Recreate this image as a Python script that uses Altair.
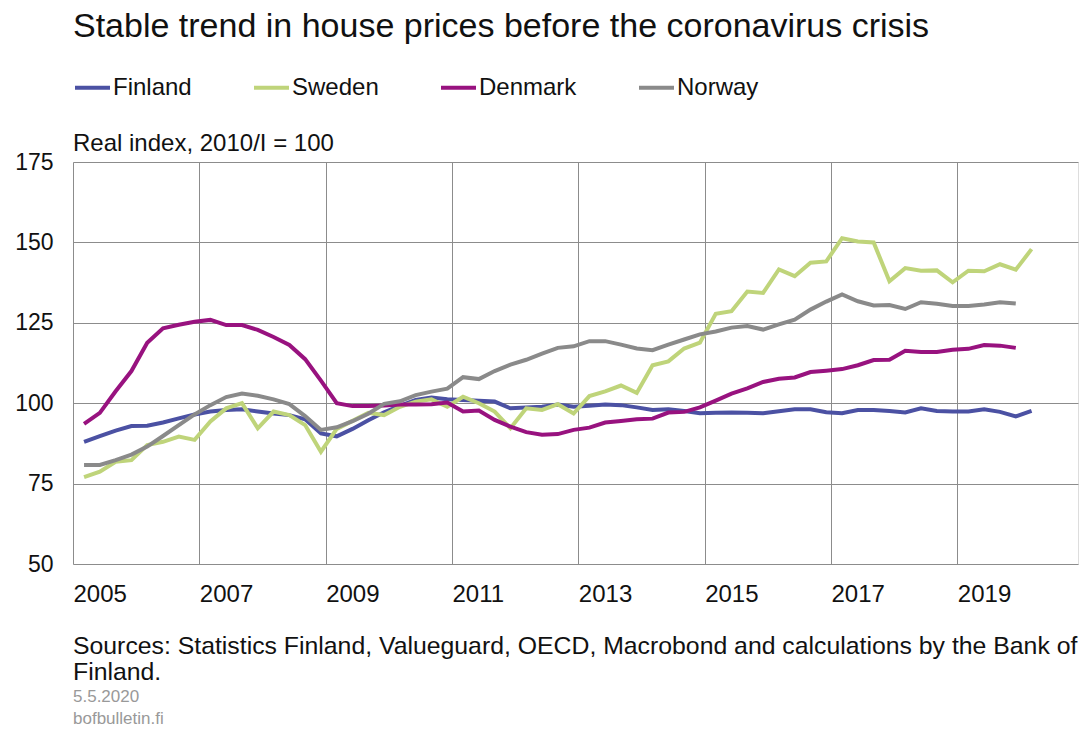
import altair as alt
import pandas as pd

# Quarterly real house price index, 2010/I = 100, starting 2005 Q1
start_year = 2005
finland = [88.0, 89.8, 91.5, 92.9, 93.0, 94.0, 95.3, 96.5, 97.4, 97.9, 98.1, 97.4, 96.8, 96.3, 95.0, 90.6,
           89.7, 92.0, 94.7, 97.2, 99.2, 101.0, 101.8, 101.2, 101.0, 100.8, 100.5, 98.4, 98.7, 98.9, 99.6, 98.9,
           99.2, 99.6, 99.4, 98.7, 97.9, 98.1, 97.6, 96.9, 97.0, 97.1, 97.0, 96.9, 97.5, 98.1, 98.1, 97.2,
           96.9, 97.9, 97.9, 97.6, 97.1, 98.4, 97.6, 97.4, 97.4, 98.1, 97.3, 95.9, 97.6]
sweden = [77.0, 78.7, 81.8, 82.3, 87.0, 88.0, 89.6, 88.6, 94.3, 98.4, 100.0, 92.2, 97.4, 96.3, 93.2, 84.9,
          92.0, 94.5, 97.0, 96.3, 98.9, 100.5, 101.2, 98.9, 102.0, 100.0, 97.4, 92.2, 98.4, 97.9, 99.7, 96.8,
          102.2, 103.7, 105.5, 103.2, 111.8, 113.0, 117.0, 118.8, 127.8, 128.6, 134.7, 134.3, 141.6, 139.5, 143.7, 144.1,
          151.3, 150.3, 150.0, 137.9, 142.0, 141.2, 141.3, 137.6, 141.2, 141.0, 143.2, 141.5, 147.9]
denmark = [93.6, 97.0, 103.7, 110.0, 118.8, 123.3, 124.4, 125.3, 125.9, 124.3, 124.3, 122.8, 120.6, 118.1, 113.7, 107.0,
           100.0, 99.1, 99.1, 99.3, 99.6, 99.6, 99.7, 100.2, 97.4, 97.7, 94.8, 92.7, 91.0, 90.2, 90.4, 91.7,
           92.4, 94.0, 94.5, 95.0, 95.2, 97.1, 97.3, 98.7, 100.8, 103.0, 104.6, 106.6, 107.6, 108.0, 109.7, 110.1,
           110.6, 111.8, 113.4, 113.5, 116.3, 115.9, 115.9, 116.6, 116.9, 118.1, 117.9, 117.2]
norway = [80.8, 80.8, 82.3, 84.0, 86.5, 89.8, 93.2, 96.5, 99.4, 101.9, 103.0, 102.3, 101.2, 99.7, 96.0, 91.7,
          92.5, 94.4, 96.7, 99.8, 100.6, 102.5, 103.6, 104.5, 108.1, 107.5, 110.0, 112.0, 113.5, 115.4, 117.2, 117.7,
          119.3, 119.3, 118.2, 117.0, 116.5, 118.2, 119.8, 121.4, 122.3, 123.5, 124.0, 122.9, 124.5, 126.0, 129.1, 131.6,
          133.8, 131.7, 130.4, 130.5, 129.3, 131.4, 130.9, 130.2, 130.2, 130.7, 131.4, 131.0]

countries = ["Finland", "Sweden", "Denmark", "Norway"]
colors = ["#4b51a3", "#bfd47a", "#98127f", "#8a8a8a"]
series = [finland, sweden, denmark, norway]
year_ticks = [2005, 2007, 2009, 2011, 2013, 2015, 2017, 2019]
y_ticks = [50, 75, 100, 125, 150, 175]

rows = []
for name, vals in zip(countries, series):
    for i, v in enumerate(vals):
        rows.append({"country": name, "t": start_year + (i + 0.7) / 4.0, "value": v})
df = pd.DataFrame(rows)

FONT = "Liberation Sans"
W, H = 1005, 402
GRID = "#8c8c8c"

lines = alt.Chart(df).mark_line(strokeWidth=4, clip=False).encode(
    x=alt.X("t:Q", scale=alt.Scale(domain=[2005, 2020.91], nice=False, zero=False),
            axis=alt.Axis(values=year_ticks, format="d", title=None, grid=True, gridColor=GRID,
                          gridWidth=1, ticks=False, domain=False, labelAlign="left",
                          labelFontSize=24, labelFont=FONT, labelColor="#111", labelPadding=18,
                          labelFlush=False, labelOverlap=False)),
    y=alt.Y("value:Q", scale=alt.Scale(domain=[50, 175], nice=False, zero=False),
            axis=alt.Axis(values=y_ticks, title=None, grid=True, gridColor=GRID, gridWidth=1,
                          ticks=False, domain=False, labelFontSize=23, labelFont=FONT,
                          labelColor="#111", labelPadding=20)),
    color=alt.Color("country:N", scale=alt.Scale(domain=countries, range=colors),
                    legend=alt.Legend(orient="none", legendX=0, legendY=-94, direction="horizontal",
                                      title=None, symbolType="stroke", symbolSize=1225,
                                      symbolStrokeWidth=4, labelFontSize=24, labelFont=FONT,
                                      labelColor="#111", labelOffset=1, columnPadding=54,
                                      labelLimit=300)),
    order="t:Q",
)

def txt(text, y, size=24, color="#111"):
    return alt.Chart(pd.DataFrame({"text": [text]})).mark_text(
        align="left", baseline="alphabetic", fontSize=size, font=FONT, color=color
    ).encode(x=alt.value(0), y=alt.value(y), text="text:N")

title = txt("Stable trend in house prices before the coronavirus crisis", -125, size=34)
subtitle = txt("Real index, 2010/I = 100", -11)
src1 = txt("Sources: Statistics Finland, Valueguard, OECD, Macrobond and calculations by the Bank of", 492, size=24.8)
src2 = txt("Finland.", 518, size=24.8)
date = txt("5.5.2020", 540, size=17, color="#999")
site = txt("bofbulletin.fi", 562, size=17, color="#999")

chart = alt.layer(lines, title, subtitle, src1, src2, date, site).properties(
    width=W, height=H,
    autosize=alt.AutoSizeParams(type="none"),
    padding={"left": 73, "top": 162, "right": 9, "bottom": 165},
).configure_view(stroke=GRID, strokeWidth=1).configure(background="white")

chart.save("out.html", embed_options={"renderer": "svg", "actions": False})
